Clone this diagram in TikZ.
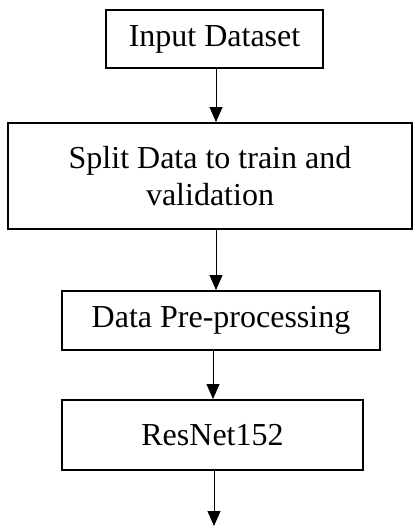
\documentclass[tikz,border=0pt]{standalone}
\usepackage{fontspec}
\setmainfont{Liberation Serif}
\usetikzlibrary{arrows.meta}
\begin{document}
\begin{tikzpicture}[x=1pt,y=1pt,
  stepbox/.style={draw=black, line width=2pt, rectangle, inner sep=0pt, align=center,
    font=\fontsize{32}{37}\selectfont},
  arr/.style={line width=1pt, -{Triangle[width=13pt,length=15pt]}}]
\useasboundingbox[fill=white] (0,0) rectangle (413,-527);
\node[stepbox, minimum width=217pt, minimum height=58pt] (b1) at (214.5,-39) {Input Dataset};
\node[stepbox, minimum width=404pt, minimum height=106pt] (b2) at (210,-176) {Split Data to train and\\validation};
\node[stepbox, minimum width=318pt, minimum height=59pt] (b3) at (221,-320.5) {Data Pre-processing};
\node[stepbox, minimum width=301pt, minimum height=70pt] (b4) at (212.5,-435) {ResNet152};
\coordinate (end) at (214,-526);
\draw[arr] ([xshift=1.5pt]b1.south) -- ([xshift=1.5pt]b1.south |- b2.north);
\draw[arr] ([xshift=6pt]b2.south) -- ([xshift=6pt]b2.south |- b3.north);
\draw[arr] ([xshift=-8pt]b3.south) -- ([xshift=-8pt]b3.south |- b4.north);
\draw[arr] ([xshift=1.5pt]b4.south) -- (end);
\end{tikzpicture}
\end{document}
